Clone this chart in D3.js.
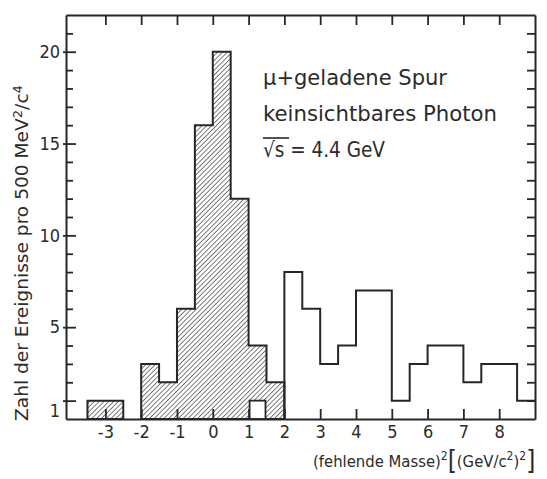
<!DOCTYPE html>
<html>
<head>
<meta charset="utf-8">
<script src="https://cdn.jsdelivr.net/npm/d3@7/dist/d3.min.js"></script>
<style>
  html, body { margin: 0; padding: 0; background: #fff; }
  svg text { font-family: "DejaVu Sans Condensed", "Liberation Sans Narrow", sans-serif; fill: #2b2b2b; }
</style>
</head>
<body>
<svg id="chart" width="547" height="479"></svg>
<script>
// Bin edges (GeV/c^2)^2, bins of 0.5 = 500 MeV^2/c^4
const binStarts = [-3.5, -3.0, -2.5, -2.0, -1.5, -1.0, -0.5, 0.0, 0.5, 1.0, 1.5,
                   2.0, 2.5, 3.0, 3.5, 4.0, 4.5, 5.0, 5.5, 6.0, 6.5, 7.0, 7.5, 8.0, 8.5];
// events in the missing-mass peak region (hatched)
const hatchedCounts = [1, 1, 0, 3, 2, 6, 16, 20, 12, 3, 2,
                       0, 0, 0, 0, 0, 0, 0, 0, 0, 0, 0, 0, 0, 0];
// remaining events (open)
const openCounts    = [0, 0, 0, 0, 0, 0, 0, 0, 0, 1, 0,
                       8, 6, 3, 4, 7, 7, 1, 3, 4, 4, 2, 3, 3, 1];
const binWidth = 0.5;

const xTicks = [-3, -2, -1, 0, 1, 2, 3, 4, 5, 6, 7, 8];
const yTickLabels = [1, 5, 10, 15, 20];
const yMinorTicks = d3.range(1, 22);

const svg = d3.select("#chart");
const x = d3.scaleLinear().domain([-4.1, 9.0]).range([66, 535]);
const y = d3.scaleLinear().domain([0, 22]).range([419, 15]);
const ink = "#262626";

// hatch pattern for the shaded distribution
const defs = svg.append("defs");
const pat = defs.append("pattern")
  .attr("id", "hatch")
  .attr("patternUnits", "userSpaceOnUse")
  .attr("width", 3.4).attr("height", 3.4)
  .attr("patternTransform", "rotate(45)");
pat.append("line")
  .attr("x1", 0).attr("y1", 0).attr("x2", 0).attr("y2", 3.4)
  .attr("stroke", ink).attr("stroke-width", 1.2);

const bins = binStarts.map((s, i) => ({
  x0: s, x1: s + binWidth, h: hatchedCounts[i], o: openCounts[i]
}));

// outline of a run of bins as a closed step polygon
function stepOutline(run, valueOf) {
  const pts = [[x(run[0].x0), y(0)]];
  run.forEach(b => {
    pts.push([x(b.x0), y(valueOf(b))]);
    pts.push([x(b.x1), y(valueOf(b))]);
  });
  pts.push([x(run[run.length - 1].x1), y(0)]);
  return "M" + pts.map(p => p.join(",")).join("L") + "Z";
}

// contiguous non-empty runs below 2 (GeV/c^2)^2
const lowBins = bins.filter(b => b.x0 < 2 && b.h + b.o > 0);
const runs = [];
lowBins.forEach(b => {
  const last = runs[runs.length - 1];
  if (last && Math.abs(last[last.length - 1].x1 - b.x0) < 1e-9) last.push(b);
  else runs.push([b]);
});
const totalLow = b => b.h + b.o;

runs.forEach(run => {
  svg.append("path")
    .attr("d", stepOutline(run, totalLow))
    .attr("fill", "url(#hatch)")
    .attr("stroke", ink).attr("stroke-width", 2)
    .attr("stroke-linejoin", "miter");
});

// open entries lying inside the hatched region
bins.filter(b => b.x0 < 2 && b.o > 0).forEach(b => {
  svg.append("rect")
    .attr("x", x(b.x0) + 1).attr("y", y(b.o))
    .attr("width", x(b.x1) - x(b.x0) - 2).attr("height", y(0) - y(b.o))
    .attr("fill", "#fff").attr("stroke", ink).attr("stroke-width", 1.8);
});

// open histogram above 2 (GeV/c^2)^2
const openBins = bins.filter(b => b.x0 >= 2);
const openPts = [[x(openBins[0].x0), y(0)]];
openBins.forEach(b => {
  openPts.push([x(b.x0), y(b.o)]);
  openPts.push([x(b.x1), y(b.o)]);
});
svg.append("path")
  .attr("d", d3.line()(openPts))
  .attr("fill", "none").attr("stroke", ink).attr("stroke-width", 2);

// axes: ticks point inward on all four sides
const styleAxis = g => {
  g.select(".domain").attr("stroke", ink).attr("stroke-width", 2);
  g.selectAll(".tick line").attr("stroke", ink).attr("stroke-width", 1.8);
};

svg.append("g")
  .attr("transform", `translate(0,${y(0)})`)
  .call(d3.axisBottom(x).tickValues(xTicks).tickSizeInner(-10).tickSizeOuter(0)
    .tickPadding(6).tickFormat(d => d < 0 ? "-" + Math.abs(d) : String(d)))
  .call(styleAxis)
  .call(g => g.selectAll(".tick text")
    .attr("font-size", 18).attr("fill", "#2b2b2b")
    .attr("font-family", "DejaVu Sans Condensed, sans-serif"));

svg.append("g")
  .attr("transform", `translate(0,${y(22)})`)
  .call(d3.axisTop(x).tickValues(xTicks).tickSizeInner(-10).tickSizeOuter(0).tickFormat(""))
  .call(styleAxis);

svg.append("g")
  .attr("transform", `translate(${x(-4.1)},0)`)
  .call(d3.axisLeft(y).tickValues(yMinorTicks).tickSizeInner(-7).tickSizeOuter(0)
    .tickPadding(6)
    .tickFormat(d => yTickLabels.includes(d) ? String(d) : ""))
  .call(styleAxis)
  .call(g => {
    g.selectAll(".tick").filter(d => yTickLabels.includes(d)).select("line")
      .attr("x1", -3).attr("x2", 10);
    g.selectAll(".tick text")
      .attr("font-size", 18).attr("fill", "#2b2b2b")
      .attr("font-family", "DejaVu Sans Condensed, sans-serif");
    g.selectAll(".tick").filter(d => d === 1).select("text").attr("dy", "0.9em");
  });

svg.append("g")
  .attr("transform", `translate(${x(9.0)},0)`)
  .call(d3.axisRight(y).tickValues(yMinorTicks).tickSizeInner(-8).tickSizeOuter(0).tickFormat(""))
  .call(styleAxis);

// axis titles
svg.append("text")
  .attr("transform", "translate(28,253) rotate(-90)")
  .attr("text-anchor", "middle")
  .attr("font-size", 17)
  .attr("textLength", 336).attr("lengthAdjust", "spacingAndGlyphs")
  .html('Zahl der Ereignisse pro 500 MeV<tspan dy="-6" font-size="12">2</tspan><tspan dy="6">/c</tspan><tspan dy="-6" font-size="12">4</tspan>');

const xt = svg.append("text")
  .attr("x", 313).attr("y", 467)
  .attr("font-size", 16.5);
xt.append("tspan").text("(fehlende Masse)");
xt.append("tspan").attr("dy", -7).attr("font-size", 12).text("2");
xt.append("tspan").attr("dy", 9).attr("font-size", 26).attr("font-weight", 300).text("[");
xt.append("tspan").attr("dy", -2).attr("font-size", 16.5).text("(GeV/c");
xt.append("tspan").attr("dy", -7).attr("font-size", 12).text("2");
xt.append("tspan").attr("dy", 7).attr("font-size", 16.5).text(")");
xt.append("tspan").attr("dy", -7).attr("font-size", 12).text("2");
xt.append("tspan").attr("dy", 9).attr("font-size", 26).attr("font-weight", 300).text("]");

// annotation
const notes = [
  { t: "μ+geladene Spur", yy: 85, w: 184 },
  { t: "keinsichtbares Photon", yy: 121, w: 234 },
];
notes.forEach(n => {
  svg.append("text").attr("x", 263).attr("y", n.yy)
    .attr("font-size", 21)
    .attr("textLength", n.w).attr("lengthAdjust", "spacingAndGlyphs")
    .text(n.t);
});
const rs = svg.append("text").attr("x", 263).attr("y", 157).attr("font-size", 21)
  .attr("textLength", 122).attr("lengthAdjust", "spacingAndGlyphs");
rs.append("tspan").text("√s");
rs.append("tspan").text(" = 4.4 GeV");
svg.append("line")
  .attr("x1", 263).attr("x2", 289).attr("y1", 138).attr("y2", 138)
  .attr("stroke", ink).attr("stroke-width", 1.6);
</script>
</body>
</html>
